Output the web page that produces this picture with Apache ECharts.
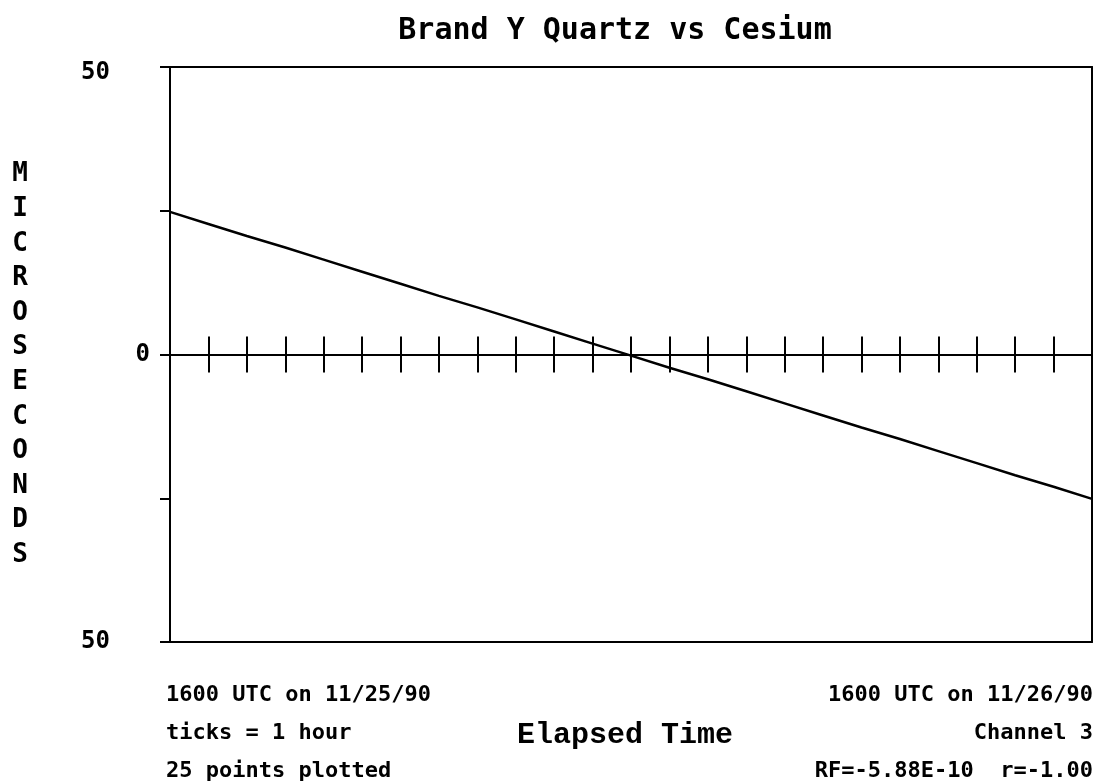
<!DOCTYPE html>
<html>
<head>
<meta charset="utf-8">
<script src="https://cdn.jsdelivr.net/npm/echarts@6/dist/echarts.min.js"></script>
<style>
  html, body { margin: 0; padding: 0; background: #fff; }
  #chart { width: 1101px; height: 783px; }
</style>
</head>
<body>
<div id="chart"></div>
<script>
// elapsed hours since 1600 UTC 11/25/90
var hours = [0,1,2,3,4,5,6,7,8,9,10,11,12,13,14,15,16,17,18,19,20,21,22,23,24];
// microseconds
var offsets = [24.8,22.7,20.6,18.6,16.5,14.4,12.3,10.2,8.2,6.1,4.0,1.9,-0.2,-2.3,-4.3,-6.4,-8.5,-10.6,-12.7,-14.7,-16.8,-18.9,-21.0,-23.0,-25.1];
var yTicks = [-50, -25, 0, 25, 50];
var leftNotes = ['1600 UTC on 11/25/90', 'ticks = 1 hour', '25 points plotted'];
var rightNotes = ['1600 UTC on 11/26/90', 'Channel 3', 'RF=-5.88E-10  r=-1.00'];

var mono = '"DejaVu Sans Mono", monospace';
var black = '#000';

var points = [];
for (var i = 0; i < hours.length; i++) {
  points.push([hours[i], offsets[i]]);
}

function xAx(pos, onZero, zeroIdx, ticks) {
  return {
    type: 'value', min: 0, max: 24, interval: 1, position: pos,
    axisLine: { show: true, onZero: onZero, onZeroAxisIndex: zeroIdx, lineStyle: { color: black, width: 2 } },
    axisTick: { show: ticks, length: 18, lineStyle: { color: black, width: 2 } },
    axisLabel: { show: false },
    splitLine: { show: false }
  };
}

var chart = echarts.init(document.getElementById('chart'));
var notes = [];
leftNotes.forEach(function (t, i) {
  notes.push({ type: 'text', x: 166, y: 695 + i * 38,
    style: { text: t, font: 'bold 22px ' + mono, fill: black, textAlign: 'left', textVerticalAlign: 'middle' } });
});
rightNotes.forEach(function (t, i) {
  notes.push({ type: 'text', x: 1093, y: 695 + i * 38,
    style: { text: t, font: 'bold 22px ' + mono, fill: black, textAlign: 'right', textVerticalAlign: 'middle' } });
});

var labelFont = { fontSize: 24, fontWeight: 'bold', fontFamily: mono, color: black };

var option = {
  animation: false,
  backgroundColor: '#fff',
  grid: { left: 170, right: 9, top: 67, bottom: 141 },
  xAxis: [
    xAx('bottom', false, 0, false),
    xAx('top', false, 0, false),
    xAx('bottom', true, 0, true),
    xAx('top', true, 1, true)
  ],
  yAxis: [
    {
      type: 'value', min: yTicks[0], max: yTicks[yTicks.length - 1], interval: 25, position: 'left',
      axisLine: { show: true, onZero: false, lineStyle: { color: black, width: 2 } },
      axisTick: { show: true, length: 10, lineStyle: { color: black, width: 2 } },
      axisLabel: {
        margin: 20,
        fontSize: 24, fontWeight: 'bold', fontFamily: mono, color: black,
        formatter: function (v) {
          if (v === 0) return '{z|0}';
          if (v === 50) return '{t|50}';
          if (v === -50) return '{b|50}';
          return '';
        },
        rich: {
          z: labelFont,
          t: Object.assign({ padding: [12, 40, 0, 0] }, labelFont),
          b: Object.assign({ padding: [0, 40, 0, 0] }, labelFont)
        }
      },
      splitLine: { show: false }
    },
    {
      type: 'value', min: -50, max: 50, interval: 25, position: 'right',
      axisLine: { show: true, onZero: false, lineStyle: { color: black, width: 2 } },
      axisTick: { show: false },
      axisLabel: { show: false },
      splitLine: { show: false }
    }
  ],
  series: [{
    type: 'line',
    xAxisIndex: 0,
    yAxisIndex: 0,
    data: points,
    symbol: 'none',
    lineStyle: { color: black, width: 2.5 }
  }],
  graphic: [
    { type: 'text', x: 615, y: 31,
      style: { text: 'Brand Y Quartz vs Cesium', font: 'bold 30px ' + mono, fill: black, textAlign: 'center', textVerticalAlign: 'middle' } },
    { type: 'text', x: 20, y: 365,
      style: { text: 'MICROSECONDS'.split('').join('\n'), font: 'bold 26px ' + mono, lineHeight: 34.6, fill: black, textAlign: 'center', textVerticalAlign: 'middle' } },
    { type: 'text', x: 625, y: 735,
      style: { text: 'Elapsed Time', font: 'bold 30px "Liberation Mono", monospace', fill: black, textAlign: 'center', textVerticalAlign: 'middle' } }
  ].concat(notes)
};
chart.setOption(option);
</script>
</body>
</html>
